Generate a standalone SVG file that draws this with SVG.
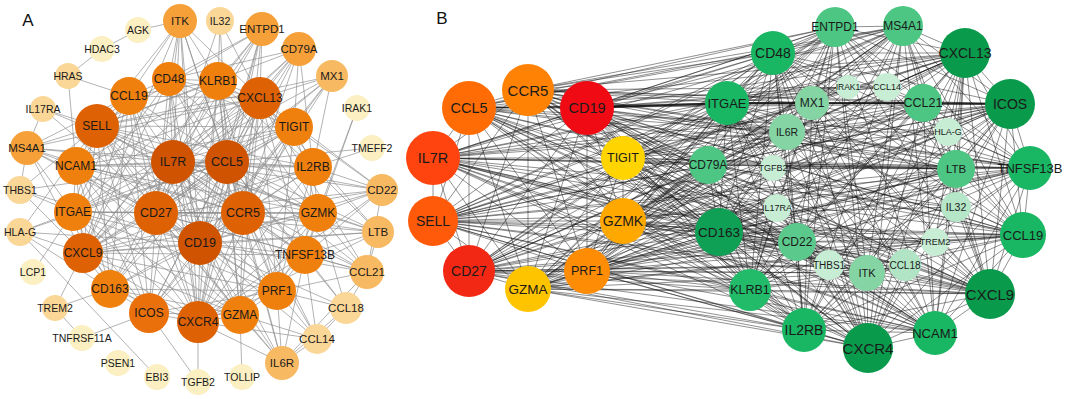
<svg xmlns="http://www.w3.org/2000/svg" width="1065" height="399" viewBox="0 0 1065 399">
<style>
.ea{fill:none;stroke:#8a8a8a;stroke-width:1;stroke-opacity:.65}
.eb{fill:none;stroke:#111;stroke-width:.85;stroke-opacity:.55}
.ebt{fill:none;stroke:#111;stroke-width:2.2;stroke-opacity:.85}
text{font-family:"Liberation Sans",Arial,sans-serif;text-anchor:middle;dominant-baseline:central;fill:#1a1a1a}
.lab{font-size:17px;fill:#111}
.f85{font-size:8.5px}.f9{font-size:9px}.f10{font-size:10px}.f105{font-size:10.5px}.f11{font-size:11px}.f115{font-size:11.5px}.f12{font-size:12px}.f125{font-size:12.5px}.f13{font-size:13px}.f135{font-size:13.5px}.f14{font-size:14px}.f145{font-size:14.5px}.f15{font-size:15px}
.a1{fill:#cf5300}.a2{fill:#de6103}.a3{fill:#f0800e}.a4{fill:#f6a03a}.a5{fill:#f8b963}.a6{fill:#fbd797}.a7{fill:#fcefc2}
.g1{fill:#0a9a4c}.g2{fill:#19b663}.g3{fill:#4cc682}.g4{fill:#85d4a4}.g5{fill:#c7edd5}
</style>
<text x="28" y="20" class="lab">A</text>
<text x="442" y="18" class="lab">B</text>
<g id="connectors">
<path class="ea" d="M173 162L180 21M173 162L262 29M173 162L299 49M173 162L332 76M173 162L169 79M173 162L218 81M173 162L129 96M173 162L260 98M173 162L97 126M173 162L294 127M173 162L27 148M173 162L227 162M173 162L76 166M173 162L313 167M173 162L382 190M173 162L73 212M173 162L156 213M173 162L243 213M173 162L318 213M173 162L378 232M173 162L200 243M173 162L83 253M173 162L305 255M173 162L367 272M173 162L110 289M173 162L277 291M173 162L149 313M173 162L240 315M173 162L198 322M173 162L220 21M173 162L282 363M173 162L43 109"/>
<path class="ea" d="M227 162L180 21M227 162L262 29M227 162L299 49M227 162L332 76M227 162L169 79M227 162L218 81M227 162L129 96M227 162L260 98M227 162L97 126M227 162L294 127M227 162L27 148M227 162L76 166M227 162L313 167M227 162L382 190M227 162L73 212M227 162L156 213M227 162L243 213M227 162L318 213M227 162L378 232M227 162L200 243M227 162L83 253M227 162L305 255M227 162L367 272M227 162L110 289M227 162L277 291M227 162L149 313M227 162L240 315M227 162L198 322M227 162L220 21M227 162L282 363M227 162L346 308M227 162L317 339M227 162L20 190M227 162L20 232M227 162L372 148"/>
<path class="ea" d="M200 243L180 21M200 243L262 29M200 243L299 49M200 243L332 76M200 243L169 79M200 243L218 81M200 243L129 96M200 243L260 98M200 243L97 126M200 243L294 127M200 243L27 148M200 243L76 166M200 243L313 167M200 243L382 190M200 243L73 212M200 243L156 213M200 243L243 213M200 243L318 213M200 243L378 232M200 243L83 253M200 243L305 255M200 243L367 272M200 243L110 289M200 243L277 291M200 243L149 313M200 243L240 315M200 243L198 322M200 243L282 363M200 243L346 308M200 243L317 339M200 243L20 232M200 243L20 190M200 243L43 109"/>
<path class="ea" d="M156 213L180 21M156 213L262 29M156 213L299 49M156 213L169 79M156 213L218 81M156 213L129 96M156 213L260 98M156 213L97 126M156 213L294 127M156 213L27 148M156 213L76 166M156 213L313 167M156 213L382 190M156 213L73 212M156 213L243 213M156 213L318 213M156 213L378 232M156 213L83 253M156 213L305 255M156 213L367 272M156 213L110 289M156 213L277 291M156 213L149 313M156 213L240 315M156 213L198 322M156 213L282 363M156 213L332 76"/>
<path class="ea" d="M243 213L180 21M243 213L262 29M243 213L299 49M243 213L169 79M243 213L218 81M243 213L129 96M243 213L260 98M243 213L97 126M243 213L294 127M243 213L27 148M243 213L76 166M243 213L313 167M243 213L382 190M243 213L73 212M243 213L318 213M243 213L378 232M243 213L83 253M243 213L305 255M243 213L367 272M243 213L110 289M243 213L277 291M243 213L149 313M243 213L240 315M243 213L198 322M243 213L282 363M243 213L332 76M243 213L317 339"/>
<path class="ea" d="M97 126L180 21M97 126L262 29M97 126L299 49M97 126L169 79M97 126L218 81M97 126L129 96M97 126L260 98M97 126L294 127M97 126L27 148M97 126L76 166M97 126L313 167M97 126L73 212M97 126L318 213M97 126L83 253M97 126L305 255M97 126L110 289M97 126L277 291M97 126L149 313M97 126L240 315M97 126L198 322M97 126L43 109M97 126L20 190M97 126L20 232M97 126L332 76"/>
<path class="ea" d="M260 98L180 21M260 98L262 29M260 98L299 49M260 98L169 79M260 98L218 81M260 98L129 96M260 98L294 127M260 98L27 148M260 98L76 166M260 98L313 167M260 98L382 190M260 98L73 212M260 98L318 213M260 98L378 232M260 98L83 253M260 98L305 255M260 98L367 272M260 98L110 289M260 98L277 291M260 98L149 313M260 98L240 315M260 98L198 322M260 98L332 76M260 98L220 21"/>
<path class="ea" d="M83 253L180 21M83 253L262 29M83 253L299 49M83 253L169 79M83 253L218 81M83 253L129 96M83 253L294 127M83 253L27 148M83 253L76 166M83 253L313 167M83 253L73 212M83 253L318 213M83 253L305 255M83 253L110 289M83 253L277 291M83 253L149 313M83 253L240 315M83 253L198 322M83 253L20 232M83 253L20 190M83 253L378 232"/>
<path class="ea" d="M198 322L180 21M198 322L262 29M198 322L169 79M198 322L218 81M198 322L129 96M198 322L294 127M198 322L76 166M198 322L313 167M198 322L73 212M198 322L318 213M198 322L305 255M198 322L110 289M198 322L277 291M198 322L149 313M198 322L240 315M198 322L282 363M198 322L317 339M198 322L198 382M198 322L382 190M198 322L378 232"/>
<path class="ea" d="M294 127L218 81M294 127L169 79M294 127L313 167M294 127L318 213M294 127L73 212M294 127L76 166M294 127L332 76M294 127L299 49M294 127L382 190M294 127L277 291M294 127L149 313M318 213L313 167M318 213L305 255M318 213L277 291M318 213L240 315M318 213L378 232M318 213L367 272M318 213L382 190M318 213L346 308M318 213L218 81M318 213L169 79M318 213L76 166M318 213L73 212M318 213L357 108M73 212L76 166M73 212L110 289M73 212L149 313M73 212L27 148M73 212L129 96M73 212L33 272M73 212L20 232M73 212L20 190M73 212L218 81M73 212L169 79M73 212L240 315M73 212L277 291M76 166L27 148M76 166L129 96M76 166L110 289M76 166L218 81M76 166L313 167M76 166L68 76M76 166L149 313M76 166L240 315M129 96L169 79M129 96L68 76M129 96L180 21M129 96L218 81M129 96L27 148M129 96L110 289M129 96L149 313M218 81L169 79M218 81L180 21M218 81L262 29M218 81L220 21M218 81L313 167M218 81L277 291M218 81L240 315M277 291L240 315M277 291L305 255M277 291L282 363M277 291L317 339M277 291L346 308M277 291L367 272M277 291L149 313M277 291L110 289M277 291L313 167M240 315L282 363M240 315L242 377M240 315L317 339M240 315L305 255M240 315L149 313M240 315L110 289M305 255L313 167M305 255L367 272M305 255L346 308M305 255L378 232M305 255L282 363M305 255L317 339M305 255L382 190M305 255L357 108M313 167L382 190M313 167L378 232M313 167L332 76M313 167L299 49M313 167L372 148M110 289L149 313M110 289L55 308M110 289L20 232M55 308L83 253M55 308L82 338M149 313L82 338M149 313L198 382M20 232L157 377M138 30L180 21M138 30L102 49M102 49L68 76M367 272L378 232M367 272L346 308M367 272L382 190M367 272L282 363M346 308L317 339M346 308L282 363M27 148L20 190M27 148L43 109M282 363L317 339M169 79L180 21M169 79L262 29M169 79L299 49"/>
<path class="eb" d="M469 108L528 90M469 108L587 108M469 108L433 158M469 108L623 158M469 108L433 221M469 108L623 221M469 108L469 271M469 108L587 271M469 108L528 289M528 90L587 108M528 90L433 158M528 90L623 158M528 90L433 221M528 90L623 221M528 90L469 271M528 90L587 271M528 90L528 289M587 108L433 158M587 108L623 158M587 108L433 221M587 108L623 221M587 108L469 271M587 108L587 271M587 108L528 289M433 158L623 158M433 158L433 221M433 158L623 221M433 158L469 271M433 158L587 271M433 158L528 289M623 158L433 221M623 158L623 221M623 158L469 271M623 158L587 271M623 158L528 289M433 221L623 221M433 221L469 271M433 221L587 271M433 221L528 289M623 221L469 271M623 221L587 271M623 221L528 289M469 271L587 271M469 271L528 289M587 271L528 289"/>
<path class="eb" d="M433 158L835 27M433 158L903 26M433 158L773 53M433 158L965 53M433 158L1010 104M433 158L727 103M433 158L708 165M433 158L1030 168M433 158L719 232M433 158L750 290M433 158L990 294M433 158L1023 235M433 158L804 330M433 158L868 348M433 158L935 333M433 158L923 103M433 158L956 169M433 158L797 242M433 158L812 103M433 158L787 132M433 158L867 273M433 158L956 207M433 158L935 242M433 158L905 265"/>
<path class="eb" d="M469 108L835 27M469 108L903 26M469 108L773 53M469 108L965 53M469 108L1010 104M469 108L727 103M469 108L708 165M469 108L1030 168M469 108L719 232M469 108L750 290M469 108L990 294M469 108L1023 235M469 108L804 330M469 108L868 348M469 108L935 333M469 108L923 103M469 108L956 169M469 108L797 242M469 108L812 103M469 108L787 132M469 108L867 273M469 108L848 87M469 108L948 132M469 108L829 265"/>
<path class="eb" d="M528 90L835 27M528 90L903 26M528 90L773 53M528 90L965 53M528 90L1010 104M528 90L727 103M528 90L708 165M528 90L1030 168M528 90L719 232M528 90L750 290M528 90L990 294M528 90L1023 235M528 90L804 330M528 90L868 348M528 90L935 333M528 90L923 103M528 90L956 169M528 90L797 242M528 90L812 103M528 90L787 132M528 90L867 273M528 90L887 87M528 90L773 168"/>
<path class="eb" d="M587 108L835 27M587 108L903 26M587 108L773 53M587 108L965 53M587 108L708 165M587 108L1030 168M587 108L719 232M587 108L750 290M587 108L990 294M587 108L1023 235M587 108L804 330M587 108L868 348M587 108L935 333M587 108L956 169M587 108L797 242M587 108L787 132M587 108L867 273M587 108L777 208M587 108L848 87M587 108L887 87"/>
<path class="eb" d="M623 158L835 27M623 158L903 26M623 158L773 53M623 158L965 53M623 158L1010 104M623 158L727 103M623 158L708 165M623 158L1030 168M623 158L719 232M623 158L750 290M623 158L990 294M623 158L1023 235M623 158L804 330M623 158L868 348M623 158L935 333M623 158L923 103M623 158L956 169M623 158L797 242M623 158L812 103M623 158L948 132M623 158L829 265"/>
<path class="eb" d="M433 221L835 27M433 221L903 26M433 221L773 53M433 221L965 53M433 221L1010 104M433 221L727 103M433 221L708 165M433 221L1030 168M433 221L719 232M433 221L750 290M433 221L990 294M433 221L1023 235M433 221L804 330M433 221L868 348M433 221L935 333M433 221L923 103M433 221L956 169M433 221L797 242M433 221L812 103M433 221L787 132M433 221L867 273M433 221L956 207M433 221L773 168"/>
<path class="eb" d="M623 221L835 27M623 221L903 26M623 221L773 53M623 221L965 53M623 221L1010 104M623 221L727 103M623 221L708 165M623 221L1030 168M623 221L719 232M623 221L750 290M623 221L990 294M623 221L1023 235M623 221L804 330M623 221L868 348M623 221L935 333M623 221L923 103M623 221L956 169M623 221L797 242M623 221L812 103M623 221L787 132M623 221L867 273M623 221L905 265M623 221L777 208M623 221L935 242"/>
<path class="eb" d="M469 271L835 27M469 271L903 26M469 271L773 53M469 271L965 53M469 271L1010 104M469 271L727 103M469 271L708 165M469 271L1030 168M469 271L719 232M469 271L750 290M469 271L990 294M469 271L1023 235M469 271L804 330M469 271L868 348M469 271L935 333M469 271L923 103M469 271L956 169M469 271L797 242M469 271L812 103M469 271L787 132M469 271L867 273M469 271L829 265M469 271L905 265"/>
<path class="eb" d="M587 271L835 27M587 271L903 26M587 271L773 53M587 271L965 53M587 271L1010 104M587 271L727 103M587 271L708 165M587 271L1030 168M587 271L719 232M587 271L750 290M587 271L990 294M587 271L1023 235M587 271L804 330M587 271L868 348M587 271L935 333M587 271L923 103M587 271L956 169M587 271L797 242M587 271L812 103M587 271L787 132M587 271L867 273M587 271L948 132M587 271L956 207"/>
<path class="eb" d="M528 289L835 27M528 289L903 26M528 289L773 53M528 289L965 53M528 289L1010 104M528 289L727 103M528 289L708 165M528 289L1030 168M528 289L719 232M528 289L750 290M528 289L990 294M528 289L1023 235M528 289L804 330M528 289L868 348M528 289L935 333M528 289L923 103M528 289L956 169M528 289L797 242M528 289L812 103M528 289L787 132M528 289L867 273M528 289L935 242M528 289L777 208"/>
<path class="eb" d="M965 53L835 27M965 53L903 26M965 53L773 53M965 53L923 103M965 53L1010 104M965 53L727 103M965 53L787 132M965 53L812 103M965 53L708 165M965 53L956 169M965 53L1030 168M965 53L719 232M965 53L797 242M965 53L867 273M965 53L750 290M965 53L990 294M965 53L1023 235M965 53L804 330M965 53L868 348M965 53L935 333M965 53L948 132M965 53L887 87M965 53L956 207M965 53L935 242"/>
<path class="eb" d="M1010 104L835 27M1010 104L903 26M1010 104L773 53M1010 104L727 103M1010 104L787 132M1010 104L708 165M1010 104L956 169M1010 104L1030 168M1010 104L719 232M1010 104L797 242M1010 104L867 273M1010 104L750 290M1010 104L990 294M1010 104L1023 235M1010 104L804 330M1010 104L868 348M1010 104L935 333M1010 104L773 168M1010 104L777 208M1010 104L905 265M1010 104L829 265"/>
<path class="eb" d="M990 294L835 27M990 294L903 26M990 294L773 53M990 294L727 103M990 294L812 103M990 294L787 132M990 294L708 165M990 294L956 169M990 294L1030 168M990 294L719 232M990 294L797 242M990 294L867 273M990 294L750 290M990 294L1023 235M990 294L804 330M990 294L868 348M990 294L935 333M990 294L923 103M990 294L773 168M990 294L777 208M990 294L905 265M990 294L935 242M990 294L956 207"/>
<path class="eb" d="M868 348L835 27M868 348L903 26M868 348L773 53M868 348L727 103M868 348L812 103M868 348L787 132M868 348L708 165M868 348L956 169M868 348L1030 168M868 348L719 232M868 348L797 242M868 348L867 273M868 348L750 290M868 348L1023 235M868 348L804 330M868 348L935 333M868 348L923 103M868 348L829 265M868 348L905 265M868 348L777 208M868 348L773 168"/>
<path class="eb" d="M719 232L835 27M719 232L903 26M719 232L773 53M719 232L727 103M719 232L812 103M719 232L787 132M719 232L708 165M719 232L956 169M719 232L1030 168M719 232L797 242M719 232L867 273M719 232L750 290M719 232L1023 235M719 232L804 330M719 232L935 333M719 232L923 103M719 232L777 208M719 232L935 242M719 232L829 265M719 232L905 265"/>
<path class="eb" d="M727 103L835 27M727 103L903 26M727 103L773 53M727 103L787 132M727 103L708 165M727 103L956 169M727 103L1030 168M727 103L797 242M727 103L867 273M727 103L750 290M727 103L1023 235M727 103L804 330M727 103L935 333M727 103L848 87M727 103L887 87M727 103L773 168M773 53L835 27M773 53L903 26M773 53L812 103M773 53L787 132M773 53L708 165M773 53L956 169M773 53L1030 168M773 53L797 242M773 53L867 273M773 53L750 290M773 53L1023 235M773 53L804 330M773 53L935 333M773 53L923 103"/>
<path class="eb" d="M1030 168L835 27M1030 168L903 26M1030 168L812 103M1030 168L787 132M1030 168L708 165M1030 168L956 169M1030 168L797 242M1030 168L867 273M1030 168L750 290M1030 168L1023 235M1030 168L804 330M1030 168L935 333M1030 168L923 103M1030 168L773 168M1030 168L948 132M935 333L835 27M935 333L903 26M935 333L812 103M935 333L787 132M935 333L708 165M935 333L956 169M935 333L797 242M935 333L867 273M935 333L750 290M935 333L1023 235M935 333L804 330M935 333L923 103M935 333L829 265"/>
<path class="eb" d="M1023 235L835 27M1023 235L903 26M1023 235L812 103M1023 235L787 132M1023 235L708 165M1023 235L956 169M1023 235L797 242M1023 235L867 273M1023 235L750 290M1023 235L804 330M1023 235L923 103M1023 235L935 242M750 290L835 27M750 290L903 26M750 290L812 103M750 290L787 132M750 290L708 165M750 290L956 169M750 290L797 242M750 290L867 273M750 290L804 330M750 290L923 103M804 330L835 27M804 330L903 26M804 330L812 103M804 330L787 132M804 330L708 165M804 330L956 169M804 330L797 242M804 330L867 273M804 330L923 103M804 330L829 265"/>
<path class="eb" d="M835 27L812 103M835 27L787 132M835 27L708 165M835 27L956 169M835 27L797 242M835 27L867 273M835 27L923 103M835 27L903 26M903 26L812 103M903 26L787 132M903 26L708 165M903 26L956 169M903 26L797 242M903 26L867 273M903 26L923 103M812 103L848 87M848 87L887 87M887 87L923 103M773 168L956 169M787 132L948 132M708 165L956 169M797 242L905 265M829 265L867 273M867 273L905 265M956 207L708 165M935 242L797 242"/>
<path class="ebt" d="M587 108L727 103L812 103L923 103L1010 104"/>
</g>
<g id="a-nodes">
<g id="a-agk"><circle cx="138" cy="30" r="13" class="a7"/><text x="138" y="30" class="f105">AGK</text></g>
<g id="a-itk"><circle cx="180" cy="21" r="17" class="a4"/><text x="180" y="21" class="f115">ITK</text></g>
<g id="a-il32"><circle cx="220" cy="21" r="14" class="a6"/><text x="220" y="21" class="f105">IL32</text></g>
<g id="a-entpd1"><circle cx="262" cy="29" r="17" class="a4"/><text x="262" y="29" class="f115">ENTPD1</text></g>
<g id="a-hdac3"><circle cx="102" cy="49" r="13" class="a7"/><text x="102" y="49" class="f105">HDAC3</text></g>
<g id="a-cd79a"><circle cx="299" cy="49" r="17" class="a4"/><text x="299" y="49" class="f115">CD79A</text></g>
<g id="a-hras"><circle cx="68" cy="76" r="13" class="a6"/><text x="68" y="76" class="f105">HRAS</text></g>
<g id="a-mx1"><circle cx="332" cy="76" r="16" class="a5"/><text x="332" y="76" class="f115">MX1</text></g>
<g id="a-cd48"><circle cx="169" cy="79" r="17" class="a3"/><text x="169" y="79" class="f12">CD48</text></g>
<g id="a-klrb1"><circle cx="218" cy="81" r="19" class="a3"/><text x="218" y="81" class="f12">KLRB1</text></g>
<g id="a-ccl19"><circle cx="129" cy="96" r="19" class="a3"/><text x="129" y="96" class="f12">CCL19</text></g>
<g id="a-cxcl13"><circle cx="260" cy="98" r="21" class="a2"/><text x="260" y="98" class="f12">CXCL13</text></g>
<g id="a-irak1"><circle cx="357" cy="108" r="13" class="a7"/><text x="357" y="108" class="f105">IRAK1</text></g>
<g id="a-il17ra"><circle cx="43" cy="109" r="13" class="a6"/><text x="43" y="109" class="f105">IL17RA</text></g>
<g id="a-sell"><circle cx="97" cy="126" r="22" class="a2"/><text x="97" y="126" class="f12">SELL</text></g>
<g id="a-tigit"><circle cx="294" cy="127" r="19" class="a3"/><text x="294" y="127" class="f12">TIGIT</text></g>
<g id="a-ms4a1"><circle cx="27" cy="148" r="17" class="a4"/><text x="27" y="148" class="f115">MS4A1</text></g>
<g id="a-tmeff2"><circle cx="372" cy="148" r="13" class="a7"/><text x="372" y="148" class="f105">TMEFF2</text></g>
<g id="a-il7r"><circle cx="173" cy="162" r="22" class="a1"/><text x="173" y="162" class="f125">IL7R</text></g>
<g id="a-ccl5"><circle cx="227" cy="162" r="22" class="a1"/><text x="227" y="162" class="f125">CCL5</text></g>
<g id="a-ncam1"><circle cx="76" cy="166" r="19" class="a3"/><text x="76" y="166" class="f12">NCAM1</text></g>
<g id="a-il2rb"><circle cx="313" cy="167" r="19" class="a3"/><text x="313" y="167" class="f12">IL2RB</text></g>
<g id="a-thbs1"><circle cx="20" cy="190" r="14" class="a6"/><text x="20" y="190" class="f105">THBS1</text></g>
<g id="a-cd22"><circle cx="382" cy="190" r="16" class="a5"/><text x="382" y="190" class="f115">CD22</text></g>
<g id="a-itgae"><circle cx="73" cy="212" r="19" class="a3"/><text x="73" y="212" class="f12">ITGAE</text></g>
<g id="a-cd27"><circle cx="156" cy="213" r="22" class="a2"/><text x="156" y="213" class="f125">CD27</text></g>
<g id="a-ccr5"><circle cx="243" cy="213" r="22" class="a2"/><text x="243" y="213" class="f125">CCR5</text></g>
<g id="a-gzmk"><circle cx="318" cy="213" r="19" class="a3"/><text x="318" y="213" class="f12">GZMK</text></g>
<g id="a-hlag"><circle cx="20" cy="232" r="14" class="a6"/><text x="20" y="232" class="f105">HLA-G</text></g>
<g id="a-ltb"><circle cx="378" cy="232" r="16" class="a5"/><text x="378" y="232" class="f115">LTB</text></g>
<g id="a-cd19"><circle cx="200" cy="243" r="22" class="a1"/><text x="200" y="243" class="f125">CD19</text></g>
<g id="a-cxcl9"><circle cx="83" cy="253" r="20" class="a2"/><text x="83" y="253" class="f12">CXCL9</text></g>
<g id="a-tnfsf13b"><circle cx="305" cy="255" r="19" class="a3"/><text x="305" y="255" class="f12">TNFSF13B</text></g>
<g id="a-lcp1"><circle cx="33" cy="272" r="13" class="a7"/><text x="33" y="272" class="f105">LCP1</text></g>
<g id="a-ccl21"><circle cx="367" cy="272" r="17" class="a5"/><text x="367" y="272" class="f115">CCL21</text></g>
<g id="a-cd163"><circle cx="110" cy="289" r="19" class="a3"/><text x="110" y="289" class="f12">CD163</text></g>
<g id="a-prf1"><circle cx="277" cy="291" r="19" class="a3"/><text x="277" y="291" class="f12">PRF1</text></g>
<g id="a-trem2"><circle cx="55" cy="308" r="13" class="a6"/><text x="55" y="308" class="f105">TREM2</text></g>
<g id="a-ccl18"><circle cx="346" cy="308" r="16" class="a6"/><text x="346" y="308" class="f115">CCL18</text></g>
<g id="a-icos"><circle cx="149" cy="313" r="20" class="a3" style="fill:#e9700a"/><text x="149" y="313" class="f12">ICOS</text></g>
<g id="a-gzma"><circle cx="240" cy="315" r="19" class="a3"/><text x="240" y="315" class="f12">GZMA</text></g>
<g id="a-cxcr4"><circle cx="198" cy="322" r="21" class="a2"/><text x="198" y="322" class="f12">CXCR4</text></g>
<g id="a-tnfrsf11a"><circle cx="82" cy="338" r="13" class="a7"/><text x="82" y="338" class="f105">TNFRSF11A</text></g>
<g id="a-ccl14"><circle cx="317" cy="339" r="15" class="a6"/><text x="317" y="339" class="f115">CCL14</text></g>
<g id="a-psen1"><circle cx="118" cy="363" r="13" class="a7"/><text x="118" y="363" class="f105">PSEN1</text></g>
<g id="a-il6r"><circle cx="282" cy="363" r="17" class="a5"/><text x="282" y="363" class="f115">IL6R</text></g>
<g id="a-ebi3"><circle cx="157" cy="377" r="13" class="a7"/><text x="157" y="377" class="f105">EBI3</text></g>
<g id="a-tollip"><circle cx="242" cy="377" r="13" class="a7"/><text x="242" y="377" class="f105">TOLLIP</text></g>
<g id="a-tgfb2"><circle cx="198" cy="382" r="13" class="a7"/><text x="198" y="382" class="f105">TGFB2</text></g>
</g>
<g id="b-nodes">
<g id="b-ccl5"><circle cx="469" cy="108" r="27" fill="#ff6c05"/><text x="469" y="108" class="f145">CCL5</text></g>
<g id="b-ccr5"><circle cx="528" cy="90" r="26" fill="#ff8205"/><text x="528" y="90" class="f15">CCR5</text></g>
<g id="b-cd19"><circle cx="587" cy="108" r="27" fill="#f00a14"/><text x="587" y="108" class="f145">CD19</text></g>
<g id="b-il7r"><circle cx="433" cy="158" r="27" fill="#ff4410"/><text x="433" y="158" class="f145">IL7R</text></g>
<g id="b-tigit"><circle cx="623" cy="158" r="22" fill="#ffd400"/><text x="623" y="158" class="f125">TIGIT</text></g>
<g id="b-sell"><circle cx="433" cy="221" r="25" fill="#ff5a0a"/><text x="433" y="221" class="f14">SELL</text></g>
<g id="b-gzmk"><circle cx="623" cy="221" r="23" fill="#ffa800"/><text x="623" y="221" class="f14">GZMK</text></g>
<g id="b-cd27"><circle cx="469" cy="271" r="26" fill="#f22814"/><text x="469" y="271" class="f14">CD27</text></g>
<g id="b-prf1"><circle cx="587" cy="271" r="23" fill="#ff8c05"/><text x="587" y="271" class="f125">PRF1</text></g>
<g id="b-gzma"><circle cx="528" cy="289" r="23" fill="#ffc400"/><text x="528" y="289" class="f135">GZMA</text></g>
<g id="b-entpd1"><circle cx="835" cy="27" r="20" class="g3"/><text x="835" y="27" class="f12">ENTPD1</text></g>
<g id="b-ms4a1"><circle cx="903" cy="26" r="20" class="g3"/><text x="903" y="26" class="f12">MS4A1</text></g>
<g id="b-cd48"><circle cx="773" cy="53" r="22" class="g2"/><text x="773" y="53" class="f14">CD48</text></g>
<g id="b-cxcl13"><circle cx="965" cy="53" r="25" class="g1"/><text x="965" y="53" class="f14">CXCL13</text></g>
<g id="b-irak1"><circle cx="848" cy="87" r="12" class="g5"/><text x="848" y="87" class="f85">IRAK1</text></g>
<g id="b-ccl14"><circle cx="887" cy="87" r="14" class="g5"/><text x="887" y="87" class="f9">CCL14</text></g>
<g id="b-itgae"><circle cx="727" cy="103" r="22" class="g2"/><text x="727" y="103" class="f13">ITGAE</text></g>
<g id="b-mx1"><circle cx="812" cy="103" r="17" class="g4"/><text x="812" y="103" class="f12">MX1</text></g>
<g id="b-ccl21"><circle cx="923" cy="103" r="19" class="g3"/><text x="923" y="103" class="f125">CCL21</text></g>
<g id="b-icos"><circle cx="1010" cy="104" r="25" class="g1"/><text x="1010" y="104" class="f14">ICOS</text></g>
<g id="b-il6r"><circle cx="787" cy="132" r="18" class="g4"/><text x="787" y="132" class="f105">IL6R</text></g>
<g id="b-hlag"><circle cx="948" cy="132" r="14" class="g5"/><text x="948" y="132" class="f9">HLA-G</text></g>
<g id="b-cd79a"><circle cx="708" cy="165" r="19" class="g3"/><text x="708" y="165" class="f12">CD79A</text></g>
<g id="b-tgfb2"><circle cx="773" cy="168" r="13" class="g5"/><text x="773" y="168" class="f9">TGFB2</text></g>
<g id="b-ltb"><circle cx="956" cy="169" r="19" class="g3"/><text x="956" y="169" class="f115">LTB</text></g>
<g id="b-tnfsf13b"><circle cx="1030" cy="168" r="22" class="g2"/><text x="1030" y="168" class="f13">TNFSF13B</text></g>
<g id="b-il17ra"><circle cx="777" cy="208" r="14" class="g5"/><text x="777" y="208" class="f9">IL17RA</text></g>
<g id="b-il32"><circle cx="956" cy="207" r="15" class="g5" style="fill:#b5e6c7"/><text x="956" y="207" class="f105">IL32</text></g>
<g id="b-cd163"><circle cx="719" cy="232" r="24" class="g1" style="fill:#0fa055"/><text x="719" y="232" class="f135">CD163</text></g>
<g id="b-ccl19"><circle cx="1023" cy="235" r="23" class="g2"/><text x="1023" y="235" class="f13">CCL19</text></g>
<g id="b-cd22"><circle cx="797" cy="242" r="19" class="g3" style="fill:#5cc98c"/><text x="797" y="242" class="f12">CD22</text></g>
<g id="b-trem2"><circle cx="935" cy="242" r="14" class="g5"/><text x="935" y="242" class="f9">TREM2</text></g>
<g id="b-thbs1"><circle cx="829" cy="265" r="15" class="g5"/><text x="829" y="265" class="f10">THBS1</text></g>
<g id="b-ccl18"><circle cx="905" cy="265" r="16" class="g5" style="fill:#b0e4c4"/><text x="905" y="265" class="f10">CCL18</text></g>
<g id="b-itk"><circle cx="867" cy="273" r="18" class="g4"/><text x="867" y="273" class="f11">ITK</text></g>
<g id="b-klrb1"><circle cx="750" cy="290" r="21" class="g2" style="fill:#22bb6a"/><text x="750" y="290" class="f125">KLRB1</text></g>
<g id="b-cxcl9"><circle cx="990" cy="294" r="25" class="g1"/><text x="990" y="294" class="f15">CXCL9</text></g>
<g id="b-il2rb"><circle cx="804" cy="330" r="22" class="g2"/><text x="804" y="330" class="f14">IL2RB</text></g>
<g id="b-ncam1"><circle cx="935" cy="333" r="22" class="g2"/><text x="935" y="333" class="f13">NCAM1</text></g>
<g id="b-cxcr4"><circle cx="868" cy="348" r="25" class="g1"/><text x="868" y="348" class="f15">CXCR4</text></g>
</g>
</svg>
